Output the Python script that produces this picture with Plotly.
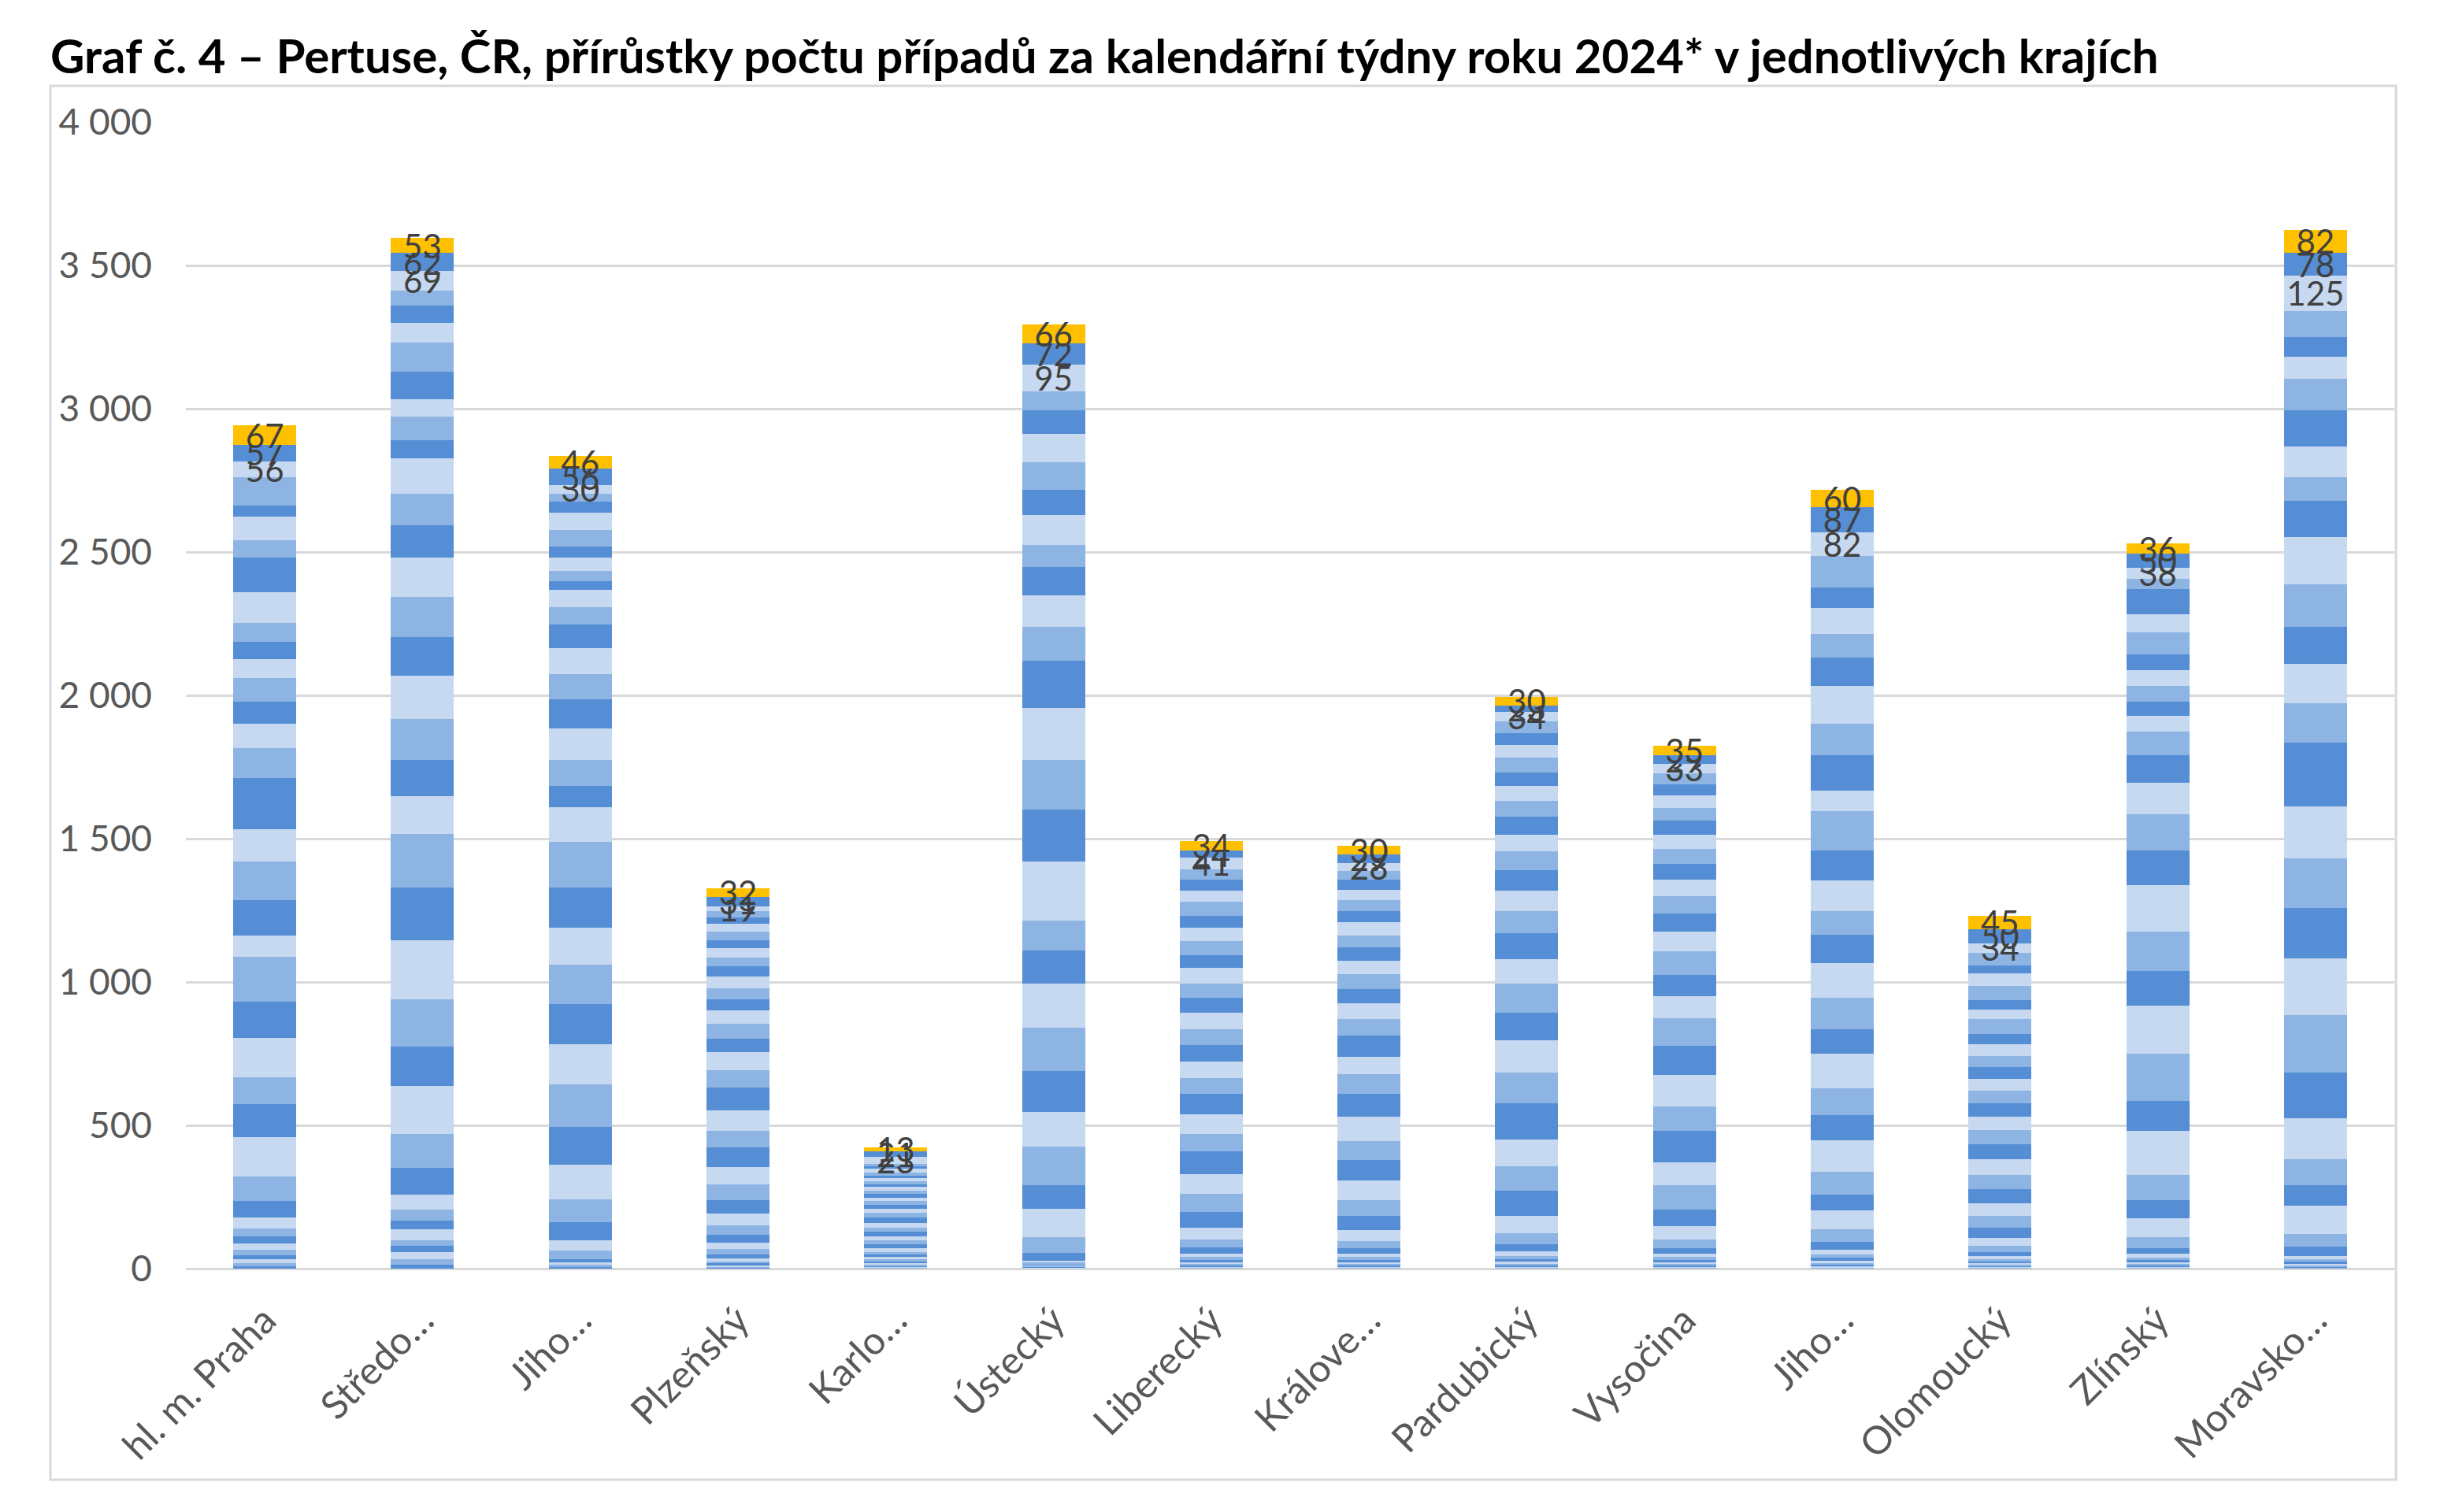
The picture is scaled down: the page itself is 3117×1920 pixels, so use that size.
import plotly.graph_objects as go

# ---------------- data ----------------
title_text = "Graf č. 4 – Pertuse, ČR, přírůstky počtu případů za kalendářní týdny roku 2024* v jednotlivých krajích"

region_labels = ["hl. m. Praha", "Středo…", "Jiho…", "Plzeňský", "Karlo…", "Ústecký",
                 "Liberecký", "Králove…", "Pardubický", "Vysočina", "Jiho…", "Olomoucký",
                 "Zlínský", "Moravsko…"]

week_numbers = list(range(1, 39))

# weekly increments (week 1 .. week 38) for each region
praha = [9, 11, 13, 15, 17, 23, 24, 28, 38, 58, 86, 138, 115, 92, 138, 126, 158, 72, 126, 133,
         114, 177, 106, 85, 77, 81, 66, 62, 66, 107, 119, 61, 83, 37, 100, 56, 57, 67]
stredocesky = [15, 18, 24, 23, 20, 38, 29, 40, 52, 92, 120, 167, 138, 163, 207, 184, 187, 130, 129, 142,
               151, 133, 142, 138, 112, 110, 122, 64, 82, 62, 96, 100, 70, 60, 52, 69, 62, 53]
jihocesky = [6, 8, 9, 11, 29, 35, 63, 80, 123, 130, 150, 138, 141, 138, 129, 140, 159, 120, 75, 91,
             110, 101, 87, 92, 83, 59, 60, 30, 37, 48, 36, 60, 60, 38, 28, 30, 56, 46]
plzensky = [3, 4, 5, 6, 8, 10, 14, 18, 22, 28, 34, 40, 48, 55, 60, 68, 58, 72, 80, 60,
            62, 48, 52, 45, 40, 38, 42, 35, 30, 33, 28, 30, 26, 24, 20, 19, 31, 32]
karlovarsky = [2, 2, 3, 3, 4, 5, 6, 7, 8, 9, 10, 12, 14, 13, 15, 16, 14, 17, 18, 16,
               15, 14, 13, 12, 14, 11, 12, 10, 11, 9, 10, 11, 12, 10, 8, 23, 21, 13]
ustecky = [1, 1, 2, 2, 3, 3, 4, 5, 6, 28, 54, 99, 82, 136, 120, 143, 153, 153, 114, 104,
           208, 180, 175, 180, 164, 120, 110, 98, 77, 103, 88, 98, 99, 82, 65, 95, 72, 66]
liberecky = [2, 3, 3, 4, 5, 6, 8, 10, 12, 20, 30, 40, 55, 62, 70, 80, 60, 68, 72, 55,
             58, 56, 55, 60, 52, 48, 55, 44, 50, 46, 42, 48, 40, 38, 36, 41, 24, 34]
kralovehradecky = [2, 2, 3, 4, 5, 6, 8, 10, 13, 18, 26, 38, 48, 55, 70, 70, 66, 85, 82, 68,
                   60, 73, 58, 55, 50, 52, 46, 48, 42, 45, 40, 38, 36, 34, 32, 28, 29, 30]
pardubicky = [2, 3, 3, 4, 5, 7, 9, 12, 15, 25, 40, 58, 88, 85, 95, 125, 108, 112, 98, 100,
              85, 92, 76, 72, 70, 66, 60, 62, 55, 52, 48, 50, 44, 42, 40, 34, 23, 30]
vysocina = [2, 2, 3, 4, 5, 6, 8, 10, 12, 20, 30, 45, 60, 85, 80, 108, 85, 110, 102, 96,
            78, 75, 82, 68, 64, 60, 58, 55, 52, 50, 48, 45, 42, 40, 38, 33, 29, 35]
jihomoravsky = [2, 3, 4, 5, 6, 8, 10, 12, 16, 27, 44, 65, 55, 82, 109, 88, 92, 121, 87, 109,
                121, 98, 82, 109, 104, 137, 71, 125, 110, 131, 98, 82, 93, 71, 110, 82, 87, 60]
olomoucky = [2, 2, 3, 3, 4, 5, 6, 8, 10, 15, 22, 28, 35, 40, 45, 50, 48, 55, 52, 50,
             46, 48, 44, 42, 40, 38, 42, 36, 52, 34, 32, 50, 42, 28, 44, 34, 50, 45]
zlinsky = [2, 2, 3, 4, 5, 6, 7, 9, 13, 20, 38, 66, 65, 88, 153, 104, 164, 169, 120, 137,
           164, 120, 126, 109, 98, 82, 55, 49, 55, 54, 55, 77, 65, 87, 35, 38, 50, 36]
moravskoslezsky = [1, 2, 2, 3, 4, 5, 7, 9, 11, 33, 43, 99, 71, 93, 142, 158, 202, 197, 175, 175,
                   180, 224, 137, 136, 131, 148, 164, 126, 82, 109, 126, 109, 76, 70, 90, 125, 78, 82]

region_series = [praha, stredocesky, jihocesky, plzensky, karlovarsky, ustecky, liberecky,
                 kralovehradecky, pardubicky, vysocina, jihomoravsky, olomoucky, zlinsky,
                 moravskoslezsky]

y_tick_values = [0, 500, 1000, 1500, 2000, 2500, 3000, 3500, 4000]
y_tick_labels = ["0", "500", "1 000", "1 500", "2 000", "2 500", "3 000", "3 500", "4 000"]

# ---------------- style ----------------
blue_cycle = ["#558ED5", "#8DB4E2", "#C6D9F1"]
last_week_color = "#FFC000"
n_labeled = 3

W, H = 3117, 1920
ml, mr, mt, mb = 236, 77, 155, 309
pw, ph = W - ml - mr, H - mt - mb

x_pos = list(range(len(region_labels)))

fig = go.Figure()
n_weeks = len(week_numbers)
for i, wk in enumerate(week_numbers):
    color = last_week_color if i == n_weeks - 1 else blue_cycle[i % 3]
    vals = [s[i] for s in region_series]
    labeled = i >= n_weeks - n_labeled
    fig.add_trace(go.Bar(
        x=x_pos, y=vals, name=f"{wk}. týden",
        marker=dict(color=color, line=dict(width=0)),
        text=[str(v) for v in vals] if labeled else None,
        textposition="inside" if labeled else "none",
        insidetextanchor="middle",
        textangle=0,
        constraintext="none",
        insidetextfont=dict(family="Lato, Calibri, sans-serif", size=42, color="#404040"),
        showlegend=False,
    ))

fig.update_layout(
    width=W, height=H,
    barmode="stack", bargap=0.6,
    paper_bgcolor="white", plot_bgcolor="white",
    margin=dict(l=ml, r=mr, t=mt, b=mb, pad=0),
    title=dict(text=f"<b>{title_text}</b>", xref="container", yref="container",
               x=64 / W, xanchor="left", y=1 - 72 / H, yanchor="middle",
               font=dict(family="Lato, Calibri, sans-serif", size=60, color="#000000")),
    xaxis=dict(range=[-0.5, len(region_labels) - 0.5], tickmode="array", tickvals=x_pos,
               ticktext=region_labels, tickangle=-45, showgrid=False, showline=False,
               zeroline=False, ticks="", ticklabelstandoff=26,
               tickfont=dict(family="Lato, Calibri, sans-serif", size=49, color="#595959")),
    yaxis=dict(range=[0, 4000], tickmode="array", tickvals=y_tick_values, ticktext=y_tick_labels,
               showgrid=True, gridcolor="#D9D9D9", gridwidth=3, zeroline=True,
               zerolinecolor="#D9D9D9", zerolinewidth=3, showline=False, ticks="",
               ticklabelstandoff=42,
               tickfont=dict(family="Lato, Calibri, sans-serif", size=46, color="#595959")),
    shapes=[dict(type="rect", xref="paper", yref="paper",
                 x0=(64 - ml) / pw, x1=(3042 - ml) / pw,
                 y0=-(1879 - (H - mb)) / ph, y1=((H - mb) - 109) / ph,
                 line=dict(color="#D9D9D9", width=3), fillcolor="rgba(0,0,0,0)", layer="below")],
)

fig.write_html("out.html")
